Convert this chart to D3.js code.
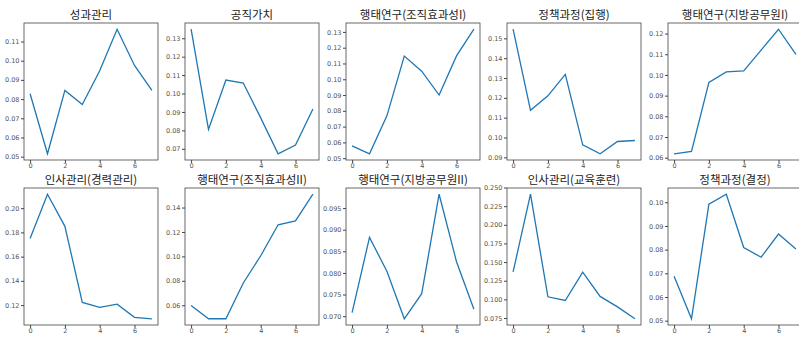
<!DOCTYPE html>
<html>
<head>
<meta charset="utf-8">
<script src="https://cdn.jsdelivr.net/npm/d3@7"></script>
<style>
  body { margin: 0; background: #fff; }
  .title { font-family: "Noto Sans CJK KR", sans-serif; font-size: 11.5px; fill: #222; }
  .axis text { font-family: "DejaVu Sans", sans-serif; font-size: 6.5px; fill: #555; }
  .axis line, .axis path { stroke: #444; }
</style>
</head>
<body>
<div id="chart"></div>
<script>
// one small array per panel, x is the index 0..7
const titles = [
  '성과관리', '공직가치', '행태연구(조직효과성I)', '정책과정(집행)', '행태연구(지방공무원I)',
  '인사관리(경력관리)', '행태연구(조직효과성II)', '행태연구(지방공무원II)', '인사관리(교육훈련)', '정책과정(결정)'
];
const s1 = [0.0828, 0.0515, 0.0845, 0.0772, 0.0948, 0.1164, 0.0975, 0.0846];
const s2 = [0.1349, 0.0805, 0.1073, 0.1057, 0.0868, 0.0673, 0.0720, 0.0916];
const s3 = [0.0578, 0.0528, 0.0768, 0.1147, 0.1051, 0.0900, 0.1148, 0.1317];
const s4 = [0.1546, 0.1137, 0.1210, 0.1318, 0.0963, 0.0918, 0.0980, 0.0985];
const s5 = [0.0619, 0.0630, 0.0964, 0.1015, 0.1020, 0.1120, 0.1221, 0.1100];
const s6 = [0.1749, 0.2115, 0.1850, 0.1222, 0.1181, 0.1208, 0.1099, 0.1087];
const s7 = [0.0597, 0.0489, 0.0489, 0.0782, 0.1005, 0.1259, 0.1290, 0.1509];
const s8 = [0.0708, 0.0882, 0.0804, 0.0694, 0.0752, 0.0982, 0.0826, 0.0716];
const s9 = [0.1368, 0.2410, 0.1035, 0.0985, 0.1365, 0.1040, 0.0900, 0.0740];
const s10 = [0.0688, 0.0508, 0.0992, 0.1034, 0.0809, 0.0768, 0.0866, 0.0803];
const series = [s1, s2, s3, s4, s5, s6, s7, s8, s9, s10];

// y tick values for each panel
const yTicks = [
  [0.05, 0.06, 0.07, 0.08, 0.09, 0.10, 0.11],
  [0.07, 0.08, 0.09, 0.10, 0.11, 0.12, 0.13],
  [0.05, 0.06, 0.07, 0.08, 0.09, 0.10, 0.11, 0.12, 0.13],
  [0.09, 0.10, 0.11, 0.12, 0.13, 0.14, 0.15],
  [0.06, 0.07, 0.08, 0.09, 0.10, 0.11, 0.12],
  [0.12, 0.14, 0.16, 0.18, 0.20],
  [0.06, 0.08, 0.10, 0.12, 0.14],
  [0.070, 0.075, 0.080, 0.085, 0.090, 0.095],
  [0.075, 0.100, 0.125, 0.150, 0.175, 0.200, 0.225, 0.250],
  [0.05, 0.06, 0.07, 0.08, 0.09, 0.10]
];
const yFormats = ['.2f', '.2f', '.2f', '.2f', '.2f', '.2f', '.2f', '.3f', '.3f', '.2f'];
const xTicks = [0, 2, 4, 6];

const W = 799, H = 338;
const colLeft = [24, 185, 346, 507, 668];
const rowTop = [23, 188];
const pw = 134, ph = 137;

const svg = d3.select('#chart').append('svg')
  .attr('width', W).attr('height', H);

series.forEach((data, i) => {
  const col = i % 5, row = Math.floor(i / 5);
  const g = svg.append('g')
    .attr('transform', `translate(${colLeft[col]},${rowTop[row]})`);

  // matplotlib style 5% margins
  const n = data.length - 1;
  const x = d3.scaleLinear().domain([-0.05 * n, n * 1.05]).range([0, pw]);
  const lo = d3.min(data), hi = d3.max(data), pad = (hi - lo) * 0.05;
  const y = d3.scaleLinear().domain([lo - pad, hi + pad]).range([ph, 0]);

  g.append('g').attr('class', 'axis')
    .attr('transform', `translate(0,${ph})`)
    .call(d3.axisBottom(x).tickValues(xTicks).tickFormat(d3.format('d')).tickSize(3).tickPadding(0.5))
    .call(a => a.select('.domain').remove());
  g.append('g').attr('class', 'axis')
    .call(d3.axisLeft(y).tickValues(yTicks[i]).tickFormat(d3.format(yFormats[i])).tickSize(3).tickPadding(1.5))
    .call(a => a.select('.domain').remove());

  g.append('path')
    .datum(data)
    .attr('fill', 'none')
    .attr('stroke', '#1f77b4')
    .attr('stroke-width', 1.3)
    .attr('d', d3.line().x((d, j) => x(j)).y(d => y(d)));

  g.append('rect')
    .attr('width', pw).attr('height', ph)
    .attr('fill', 'none').attr('stroke', '#444').attr('stroke-width', 0.8);

  g.append('text').attr('class', 'title')
    .attr('x', pw / 2).attr('y', -4)
    .attr('text-anchor', 'middle')
    .text(titles[i]);
});
</script>
</body>
</html>
